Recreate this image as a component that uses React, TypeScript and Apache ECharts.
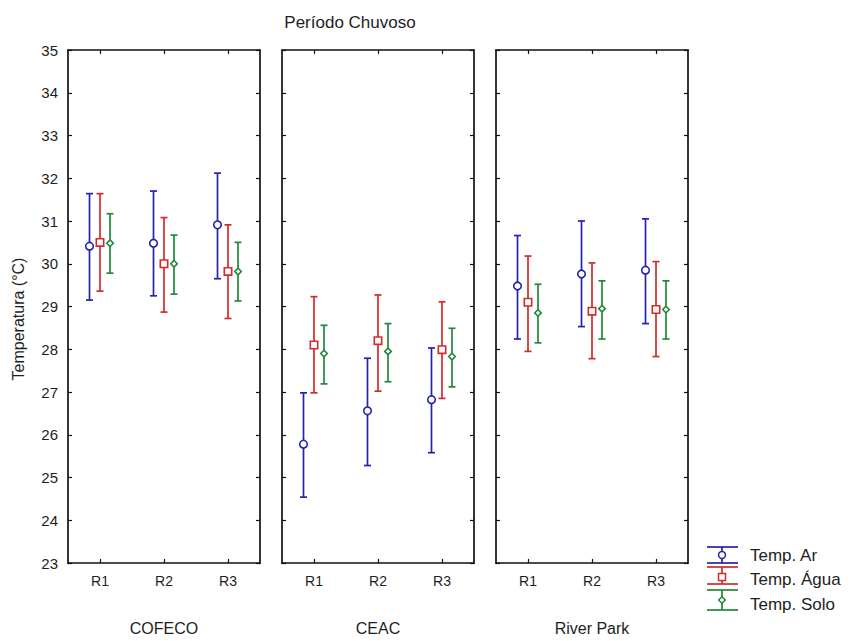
import React, { useEffect, useRef } from "react";
import * as echarts from "echarts";

const categories = ["R1", "R2", "R3"];
const sites = ["COFECO", "CEAC", "River Park"];
const yTicks = { min: 23, max: 35, interval: 1 };

// Temp. Ar (per site: R1, R2, R3)
const arMean = [[30.41, 30.48, 30.91], [25.78, 26.56, 26.82], [29.48, 29.76, 29.85]];
const arUpper = [[31.64, 31.70, 32.12], [26.98, 27.79, 28.03], [30.66, 31.0, 31.05]];
const arLower = [[29.15, 29.25, 29.65], [24.54, 25.28, 25.58], [28.24, 28.53, 28.6]];

// Temp. Água
const aguaMean = [[30.5, 30.0, 29.82], [28.1, 28.2, 27.99], [29.1, 28.89, 28.93]];
const aguaUpper = [[31.64, 31.08, 30.91], [29.23, 29.27, 29.11], [30.18, 30.02, 30.05]];
const aguaLower = [[29.36, 28.87, 28.72], [26.98, 27.02, 26.85], [27.95, 27.78, 27.83]];

// Temp. Solo
const soloMean = [[30.48, 30.0, 29.82], [27.9, 27.95, 27.83], [28.85, 28.95, 28.93]];
const soloUpper = [[31.17, 30.67, 30.5], [28.56, 28.6, 28.49], [29.52, 29.6, 29.6]];
const soloLower = [[29.78, 29.29, 29.13], [27.19, 27.24, 27.12], [28.15, 28.24, 28.24]];

const seriesNames = ["Temp. Ar", "Temp. Água", "Temp. Solo"];
const FONT = "'Liberation Sans', Arial, sans-serif";
const TXT = "#1e1e1e";
const BLUE = "#2424a8";
const RED = "#d42a2a";
const GREEN = "#22883a";

export default function App() {
  const ref = useRef<HTMLDivElement>(null);

  useEffect(() => {
    document.body.style.margin = "0";
    document.documentElement.style.overflow = "hidden";
    document.body.style.overflow = "hidden";
    if (!ref.current) return;
    const chart = echarts.init(ref.current, null, { renderer: "svg", width: 853, height: 641 });

    const gridLefts = [68, 282, 496];
    const gridW = 192;
    const gridTop = 50;
    const gridH = 521;

    const grids = gridLefts.map((l) => ({ left: l, top: gridTop, width: gridW, height: gridH }));

    const lineStyle = { color: "#111", width: 1.7 };
    const tickStyle = { color: "#111", width: 1.2 };
    const xAxes: any[] = [];
    const yAxes: any[] = [];
    for (let i = 0; i < 3; i++) {
      xAxes.push({
        type: "category",
        gridIndex: i,
        data: categories,
        position: "bottom",
        boundaryGap: true,
        axisLine: { show: true, lineStyle },
        axisTick: { show: true, alignWithLabel: true, inside: true, length: 4, lineStyle: tickStyle },
        axisLabel: { color: TXT, fontSize: 14, fontFamily: FONT, margin: 11 },
        name: sites[i],
        nameLocation: "middle",
        nameGap: 57,
        nameTextStyle: { color: TXT, fontSize: 16, fontFamily: FONT },
        splitLine: { show: false },
      });
    }
    for (let i = 0; i < 3; i++) {
      xAxes.push({
        type: "category",
        gridIndex: i,
        data: categories,
        position: "top",
        boundaryGap: true,
        axisLine: { show: true, lineStyle },
        axisTick: { show: true, alignWithLabel: true, inside: true, length: 4, lineStyle: tickStyle },
        axisLabel: { show: false },
        splitLine: { show: false },
      });
    }
    for (let i = 0; i < 3; i++) {
      yAxes.push({
        type: "value",
        gridIndex: i,
        min: yTicks.min,
        max: yTicks.max,
        interval: yTicks.interval,
        position: "left",
        axisLine: { show: true, lineStyle },
        axisTick: { show: true, inside: true, length: 4, lineStyle: tickStyle },
        axisLabel: { show: i === 0, color: TXT, fontSize: 15, fontFamily: FONT, margin: 10 },
        splitLine: { show: false },
      });
    }
    for (let i = 0; i < 3; i++) {
      yAxes.push({
        type: "value",
        gridIndex: i,
        min: yTicks.min,
        max: yTicks.max,
        interval: yTicks.interval,
        position: "right",
        axisLine: { show: true, lineStyle },
        axisTick: { show: true, inside: true, length: 4, lineStyle: tickStyle },
        axisLabel: { show: false },
        splitLine: { show: false },
      });
    }

    const groups = [
      { name: seriesNames[0], mean: arMean, lo: arLower, hi: arUpper, color: BLUE, marker: "circle", offset: -10.5 },
      { name: seriesNames[1], mean: aguaMean, lo: aguaLower, hi: aguaUpper, color: RED, marker: "square", offset: 0 },
      { name: seriesNames[2], mean: soloMean, lo: soloLower, hi: soloUpper, color: GREEN, marker: "diamond", offset: 10 },
    ];

    const series: any[] = [];
    groups.forEach((g) => {
      for (let s = 0; s < 3; s++) {
        const data = categories.map((_, c) => [c, g.mean[s][c], g.lo[s][c], g.hi[s][c]]);
        series.push({
          type: "custom",
          name: g.name,
          xAxisIndex: s,
          yAxisIndex: s,
          data,
          encode: { x: 0, y: [1, 2, 3] },
          renderItem: (params: any, api: any) => {
            const c = api.value(0);
            const pm = api.coord([c, api.value(1)]);
            const plo = api.coord([c, api.value(2)]);
            const phi = api.coord([c, api.value(3)]);
            const x = pm[0] + g.offset;
            const y = pm[1];
            const st = { stroke: g.color, lineWidth: 1.7 };
            const cap = 3.5;
            const children: any[] = [
              { type: "line", shape: { x1: x, y1: phi[1], x2: x, y2: plo[1] }, style: st },
              { type: "line", shape: { x1: x - cap, y1: phi[1], x2: x + cap, y2: phi[1] }, style: st },
              { type: "line", shape: { x1: x - cap, y1: plo[1], x2: x + cap, y2: plo[1] }, style: st },
            ];
            const ms = { fill: "#fff", stroke: g.color, lineWidth: 1.6 };
            if (g.marker === "circle") {
              children.push({ type: "circle", shape: { cx: x, cy: y, r: 3.8 }, style: ms });
            } else if (g.marker === "square") {
              children.push({ type: "rect", shape: { x: x - 3.7, y: y - 3.7, width: 7.4, height: 7.4 }, style: ms });
            } else {
              const d = 3.3;
              children.push({
                type: "polygon",
                shape: { points: [[x, y - d], [x + d, y], [x, y + d], [x - d, y]] },
                style: ms,
              });
            }
            return { type: "group", children };
          },
        });
      }
    });

    // legend glyphs
    const legendRows = [
      { top: 547, bottom: 563, my: 555, color: BLUE, marker: "circle", text: seriesNames[0], ty: 555 },
      { top: 567, bottom: 584, my: 577, color: RED, marker: "square", text: seriesNames[1], ty: 579 },
      { top: 590, bottom: 610, my: 600, color: GREEN, marker: "diamond", text: seriesNames[2], ty: 604 },
    ];
    const graphic: any[] = [
      {
        type: "text",
        x: 350,
        y: 22,
        style: { text: "Período Chuvoso", fill: TXT, font: `17px ${FONT}`, textAlign: "center", textVerticalAlign: "middle" },
      },
      {
        type: "text",
        x: 18,
        y: 319,
        rotation: Math.PI / 2,
        style: { text: "Temperatura (°C)", fill: TXT, font: `16px ${FONT}`, textAlign: "center", textVerticalAlign: "middle" },
      },
    ];
    legendRows.forEach((r) => {
      const cx = 722;
      const st = { stroke: r.color, lineWidth: 1.7 };
      graphic.push({ type: "line", shape: { x1: 707, y1: r.top, x2: 738, y2: r.top }, style: st });
      graphic.push({ type: "line", shape: { x1: 707, y1: r.bottom, x2: 738, y2: r.bottom }, style: st });
      graphic.push({ type: "line", shape: { x1: cx, y1: r.top, x2: cx, y2: r.bottom }, style: st });
      const ms = { fill: "#fff", stroke: r.color, lineWidth: 1.5 };
      if (r.marker === "circle") graphic.push({ type: "circle", shape: { cx, cy: r.my, r: 3.5 }, style: ms });
      else if (r.marker === "square") graphic.push({ type: "rect", shape: { x: cx - 3.5, y: r.my - 3.5, width: 7, height: 7 }, style: ms });
      else
        graphic.push({
          type: "polygon",
          shape: { points: [[cx, r.my - 3.3], [cx + 3.3, r.my], [cx, r.my + 3.3], [cx - 3.3, r.my]] },
          style: ms,
        });
      graphic.push({
        type: "text",
        x: 750,
        y: r.ty,
        style: { text: r.text, fill: TXT, font: `17px ${FONT}`, textVerticalAlign: "middle" },
      });
    });

    chart.setOption({
      animation: false,
      backgroundColor: "#fff",
      grid: grids,
      xAxis: xAxes,
      yAxis: yAxes,
      series,
      graphic,
    });

    return () => chart.dispose();
  }, []);

  return (
    <div
      ref={ref}
      style={{ position: "fixed", left: 0, top: 0, width: 853, height: 641, overflow: "hidden" }}
    />
  );
}
